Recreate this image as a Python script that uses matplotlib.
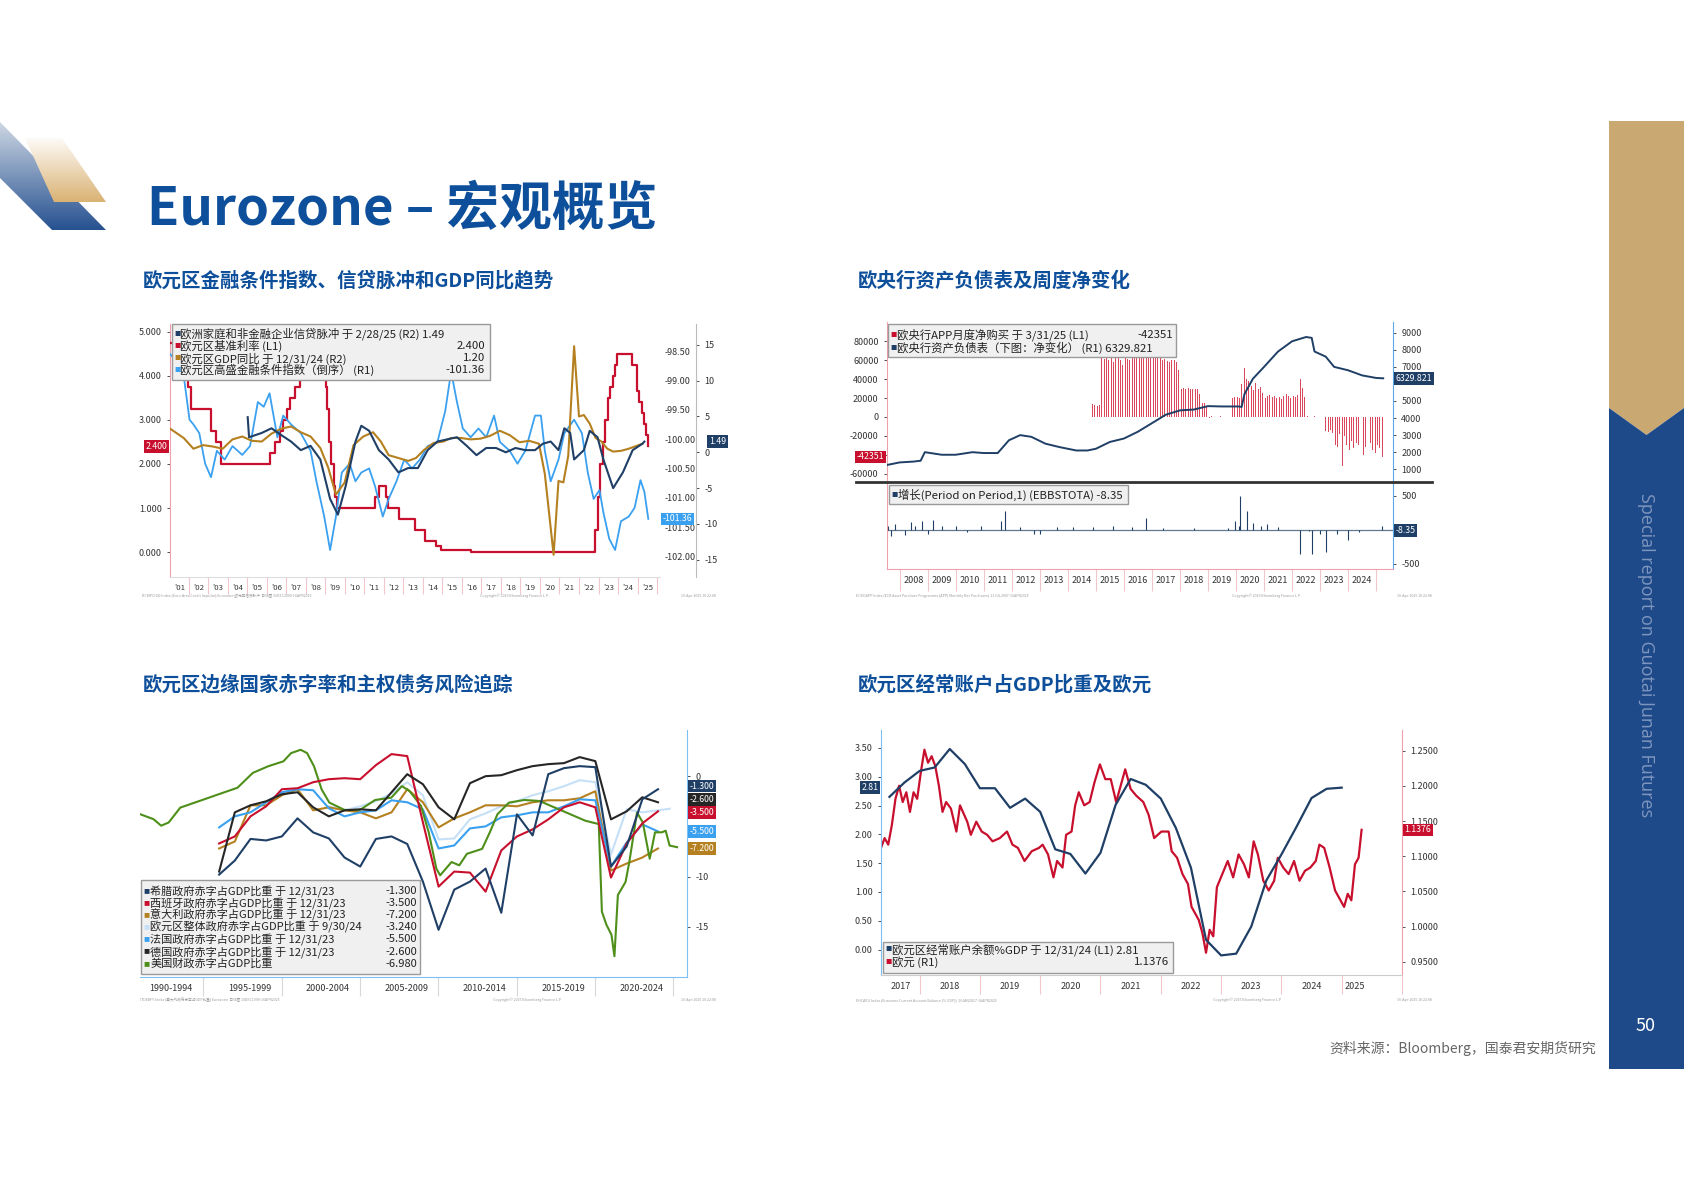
import numpy as np
import matplotlib
matplotlib.use("Agg")
import matplotlib.pyplot as plt
from matplotlib.patches import Rectangle, Polygon
from matplotlib.colors import LinearSegmentedColormap

plt.rcParams['font.family'] = ['Noto Sans CJK SC', 'DejaVu Sans']
plt.rcParams['axes.unicode_minus'] = False

W, H = 1684, 1191
NAVY = '#1F3F66'; RED = '#C8102E'; ORANGE = '#B5801F'; LBLUE = '#3AA0F0'
BLACK = '#262626'; GREEN = '#4E8F1A'; PALE = '#C6E0F7'; TITLE = '#0D4F9A'

# ---------------- Chart 1 data ----------------
rate_x = [2000.8, 2001.36, 2001.66, 2001.72, 2001.86, 2002.92, 2003.18, 2003.43, 2005.92, 2006.17, 2006.45, 2006.6,
          2006.78, 2006.95, 2007.2, 2007.45, 2008.52, 2008.78, 2008.85, 2008.94, 2009.05, 2009.19, 2009.27, 2009.37,
          2011.28, 2011.53, 2011.84, 2011.95, 2012.52, 2013.34, 2013.85, 2014.44, 2014.7, 2016.2, 2022.56, 2022.7,
          2022.84, 2022.97, 2023.1, 2023.22, 2023.35, 2023.47, 2023.6, 2023.72, 2024.45, 2024.71, 2024.8, 2024.96,
          2025.08, 2025.2, 2025.3]
rate_v = [4.75, 4.5, 4.25, 3.75, 3.25, 2.75, 2.5, 2.0, 2.25, 2.5, 2.75, 3.0, 3.25, 3.5, 3.75, 4.0, 4.25, 3.75, 3.25,
          2.5, 2.0, 1.5, 1.25, 1.0, 1.25, 1.5, 1.25, 1.0, 0.75, 0.5, 0.25, 0.15, 0.05, 0.0, 0.5, 1.25, 2.0, 2.5, 3.0,
          3.5, 3.75, 4.0, 4.25, 4.5, 4.25, 3.65, 3.4, 3.15, 2.9, 2.65, 2.4]
gdp_x = [2000.8, 2001.5, 2002.0, 2002.5, 2003.0, 2003.5, 2004.0, 2004.5, 2005.0, 2005.5, 2006.0, 2006.5, 2007.0,
         2007.5, 2008.0, 2008.5, 2008.9, 2009.3, 2009.75, 2010.2, 2010.7, 2011.2, 2011.6, 2012.0, 2012.5, 2013.0,
         2013.4, 2013.8, 2014.3, 2014.8, 2015.2, 2015.7, 2016.2, 2016.7, 2017.2, 2017.7, 2018.2, 2018.7, 2019.2,
         2019.7, 2020.0, 2020.45, 2020.7, 2020.95, 2021.2, 2021.5, 2021.75, 2022.0, 2022.3, 2022.6, 2022.9, 2023.2,
         2023.5, 2023.9, 2024.3, 2024.7, 2025.0]
gdp_v = [3.3, 2.0, 0.5, 1.0, 0.8, 0.5, 1.8, 2.2, 1.6, 1.5, 2.6, 3.3, 3.6, 2.8, 2.2, 0.6, -2.1, -5.9, -4.2, 1.0, 2.2,
         2.8, 1.5, -0.4, -0.8, -1.2, -0.8, 0.3, 1.3, 1.5, 2.0, 2.0, 1.8, 1.9, 2.3, 3.0, 2.4, 1.4, 1.6, 1.2, -3.0,
         -14.3, -4.0, -4.2, -0.5, 14.8, 5.0, 5.2, 4.0, 2.0, 1.5, 0.5, 0.1, 0.2, 0.5, 0.9, 1.2]
imp_x = [2004.78, 2004.85, 2005.5, 2006.0, 2006.5, 2007.0, 2007.5, 2008.0, 2008.5, 2009.0, 2009.4, 2009.8, 2010.3,
         2010.6, 2011.0, 2011.5, 2012.0, 2012.5, 2013.0, 2013.5, 2014.0, 2014.5, 2015.0, 2015.5, 2016.0, 2016.5,
         2017.0, 2017.5, 2018.0, 2018.5, 2019.0, 2019.5, 2019.9, 2020.3, 2020.7, 2021.0, 2021.3, 2021.5, 2022.0,
         2022.3, 2022.7, 2023.0, 2023.5, 2024.0, 2024.5, 2025.0, 2025.1]
imp_v = [4.9, 2.1, 2.7, 3.35, 2.4, 1.5, 0.3, 0.9, -1.0, -6.5, -8.7, -4.7, 1.5, 3.7, 3.0, 0.3, -1.0, -2.8, -2.2, -2.2,
         0.3, 1.5, 1.8, 2.1, 0.9, -0.4, 0.6, 0.6, 0.0, 0.6, 0.3, 0.3, 1.2, 1.5, 0.3, 3.35, 2.7, -1.0, 0.3, 3.0, 2.1,
         -1.0, -5.0, -2.8, 0.3, 1.2, 1.49]
fci_x = [2000.8, 2001.2, 2001.5, 2001.8, 2002.0, 2002.3, 2002.6, 2002.9, 2003.2, 2003.6, 2004.0, 2004.5, 2004.9,
         2005.3, 2005.6, 2005.9, 2006.3, 2006.6, 2007.0, 2007.5, 2008.0, 2008.3, 2008.7, 2009.0, 2009.3, 2009.6,
         2010.0, 2010.3, 2010.6, 2011.0, 2011.3, 2011.7, 2012.0, 2012.4, 2012.8, 2013.2, 2013.6, 2014.0, 2014.5,
         2014.9, 2015.2, 2015.5, 2015.8, 2016.2, 2016.6, 2017.0, 2017.4, 2017.7, 2018.2, 2018.6, 2019.0, 2019.5,
         2019.8, 2020.0, 2020.3, 2020.7, 2021.0, 2021.5, 2021.9, 2022.2, 2022.5, 2022.8, 2023.0, 2023.3, 2023.6,
         2023.9, 2024.3, 2024.6, 2024.9, 2025.1, 2025.3]
fci_v = [-98.55, -98.70, -98.92, -99.67, -99.75, -99.90, -100.42, -100.65, -100.20, -100.35, -100.12, -100.27,
         -100.12, -99.37, -99.45, -99.22, -99.97, -99.60, -99.75, -99.90, -100.20, -100.72, -101.32, -101.89,
         -101.32, -100.57, -100.42, -100.72, -100.57, -100.50, -100.80, -101.32, -101.02, -100.72, -100.35, -100.50,
         -100.35, -100.12, -100.05, -99.52, -98.85, -99.37, -99.82, -99.97, -99.82, -99.97, -99.60, -100.05, -100.20,
         -100.42, -100.20, -99.60, -99.60, -100.20, -100.72, -100.35, -99.90, -99.67, -99.90, -100.57, -101.02,
         -100.87, -101.25, -101.70, -101.89, -101.40, -101.32, -101.17, -100.70, -100.90, -101.36]
c1_years = list(range(2001, 2026))

# ---------------- Chart 2 data ----------------
app_start = 2014.75
app_vals = [5000, 14000, 13000,
            12000, 13000, 62000, 61000, 63000, 60000, 62000, 58000, 62000, 63000, 60000, 55000,
            62000, 61000, 60000, 85000, 80000, 84000, 81000, 80000, 82000, 80000, 83000, 75000,
            82000, 80000, 84000, 62000, 60000, 61000, 59000, 58000, 60000, 60000, 58000, 50000,
            30000, 31000, 30000, 31000, 29000, 30000, 30000, 29000, 24000, 15000, 15000, 12000,
            -1000, 500, -500, 200, -300, 500, -200, 300, -400, 200, 20000, 21000,
            21000, 20000, 35000, 52000, 40000, 38000, 33000, 28000, 36000, 30000, 32000, 25000,
            20000, 22000, 23000, 21000, 22000, 20000, 21000, 19000, 22000, 24000, 22000, 20000,
            22000, 21000, 23000, 40000, 31000, 21000, 500, 300, -200, 500, 300, -400,
            -100, 200, -15000, -16000, -14000, -17000, -30000, -32000, -18000, -52000, -20000, -30000,
            -35000, -25000, -33000, -28000, -30000, -33000, -40000, -32000, -26000, -28000, -35000, -38000,
            -30000, -33000, -42351]
bs_x = [2007.55, 2008.0, 2008.5, 2008.75, 2008.9, 2009.5, 2010.0, 2010.6, 2011.0, 2011.5, 2011.9, 2012.3, 2012.7,
        2013.2, 2013.7, 2014.3, 2014.7, 2015.0, 2015.5, 2016.0, 2016.5, 2017.0, 2017.5, 2018.0, 2018.5, 2019.0,
        2019.5, 2020.1, 2020.2, 2020.3, 2020.6, 2021.0, 2021.5, 2022.0, 2022.5, 2022.7, 2022.8, 2023.2, 2023.5,
        2024.0, 2024.5, 2025.0, 2025.25]
bs_v = [1250, 1400, 1450, 1500, 2000, 1850, 1850, 2000, 1950, 1950, 2700, 3000, 2900, 2500, 2300, 2100, 2100, 2200,
        2600, 2800, 3200, 3700, 4200, 4450, 4500, 4700, 4680, 4680, 4650, 5400, 6300, 7000, 7900, 8500, 8750, 8700,
        7900, 7600, 7000, 6800, 6500, 6350, 6330]
chg_x = [2007.6, 2007.7, 2007.85, 2008.2, 2008.4, 2008.55, 2008.8, 2009.0, 2009.2, 2009.5, 2010.0, 2010.4, 2010.9,
         2011.6, 2011.75, 2012.3, 2012.8, 2013.0, 2013.6, 2014.2, 2014.9, 2015.6, 2016.3, 2016.8, 2017.4, 2018.5,
         2019.7, 2019.95, 2020.1, 2020.15, 2020.4, 2020.6, 2020.9, 2021.1, 2021.5, 2022.3, 2022.6, 2022.7, 2023.0,
         2023.2, 2023.6, 2024.0, 2024.4, 2025.2]
chg_v = [60, -90, 90, -80, 120, 60, 130, -60, 150, 60, 50, -40, 50, 130, 280, 40, -60, -60, 40, 40, 40, 50, 40, 180,
         20, 20, 20, 130, 60, 500, 280, 100, 60, 80, 40, -360, -20, -360, -60, -330, -60, -150, -40, 60]
c2_years = list(range(2008, 2025))

# ---------------- Chart 3 data ----------------
yr = list(range(1995, 2024))
greece = [-9.8, -8.4, -6.25, -6.4, -6.0, -4.2, -5.6, -6.2, -8.1, -9.0, -6.25, -6.0, -6.75, -10.5, -15.3, -11.3, -10.5,
          -9.2, -13.6, -3.8, -5.9, 0.2, 0.8, 1.0, 0.9, -9.0, -7.0, -2.3, -1.3]
spain = [-6.7, -6.0, -4.0, -3.0, -1.3, -1.2, -0.6, -0.3, -0.2, -0.3, 1.1, 2.2, 2.0, -4.6, -11.0, -9.5, -9.6, -11.5,
         -7.4, -6.0, -5.3, -4.3, -3.1, -2.6, -3.1, -10.1, -6.7, -4.7, -3.5]
italy = [-7.2, -6.5, -2.9, -2.9, -1.9, -1.3, -3.4, -3.1, -3.4, -3.6, -4.2, -3.6, -1.3, -2.6, -5.1, -4.2, -3.6, -2.9,
         -2.9, -3.0, -2.6, -2.4, -2.4, -2.2, -1.5, -9.4, -8.7, -8.1, -7.2]
france = [-5.1, -4.0, -3.6, -2.6, -1.6, -1.3, -1.4, -3.2, -4.0, -3.6, -3.4, -2.4, -2.6, -3.3, -7.2, -6.9, -5.2, -5.0,
          -4.1, -3.9, -3.6, -3.6, -3.0, -2.3, -2.4, -9.0, -6.6, -4.8, -5.5]
germany = [-9.5, -3.6, -2.9, -2.5, -1.8, -1.6, -3.1, -4.0, -3.4, -3.3, -3.4, -1.6, 0.2, -0.8, -3.1, -4.3, -0.7, 0.0,
           0.1, 0.6, 1.0, 1.2, 1.3, 1.9, 1.5, -4.3, -3.5, -2.1, -2.6]
ez_yr = [2002, 2003, 2004, 2005, 2006, 2007, 2008, 2009, 2010, 2011, 2012, 2013, 2014, 2015, 2016, 2017, 2018, 2019,
         2020, 2021, 2022, 2023, 2023.75]
ez = [-3.0, -3.4, -3.0, -2.5, -1.7, -0.6, -1.9, -6.3, -6.2, -4.3, -3.7, -3.0, -2.5, -1.9, -1.5, -1.0, -0.4, -0.6,
      -7.8, -3.3, -3.6, -3.4, -3.24]
us_x = [1990.8, 1991.66, 1992.15, 1992.63, 1993.37, 1994.59, 1995.8, 1997.02, 1998.0, 1998.98, 1999.95, 2000.44,
        2001.05, 2001.46, 2001.9, 2002.39, 2002.88, 2003.85, 2004.83, 2005.8, 2006.83, 2007.51, 2008.0, 2008.73,
        2009.22, 2009.71, 2009.95, 2010.68, 2011.17, 2011.66, 2012.63, 2013.12, 2013.61, 2014.34, 2015.32, 2016.29,
        2017.27, 2018.24, 2019.22, 2020.07, 2020.27, 2020.56, 2020.88, 2021.07, 2021.29, 2021.78, 2022.02, 2022.51,
        2022.88, 2023.32, 2023.66, 2024.1, 2024.34, 2024.59, 2025.07]
us_v = [-3.78, -4.28, -4.93, -4.61, -3.13, -2.47, -1.81, -1.15, 0.33, 0.99, 1.48, 2.30, 2.63, 2.30, 0.99, -1.32,
        -2.63, -3.36, -3.36, -2.37, -2.14, -0.99, -1.48, -2.96, -5.59, -9.21, -9.87, -8.55, -8.88, -7.73, -7.24,
        -5.59, -3.78, -2.63, -2.37, -2.47, -3.13, -3.78, -4.44, -4.77, -13.49, -14.80, -15.79, -17.93, -11.84,
        -10.53, -8.55, -3.62, -4.61, -8.22, -5.59, -5.59, -5.43, -6.91, -7.07]
c3_periods = ['1990-1994', '1995-1999', '2000-2004', '2005-2009', '2010-2014', '2015-2019', '2020-2024']

# ---------------- Chart 4 data ----------------
ca_x = [2017.5 + 0.25 * i for i in range(31)]
ca_v = [2.65, 2.9, 3.1, 3.16, 3.48, 3.22, 2.8, 2.8, 2.46, 2.62, 2.39, 1.74, 1.66, 1.32, 1.68, 2.51, 2.96, 2.86, 2.62,
        2.11, 1.42, 0.17, -0.1, -0.07, 0.4, 1.2, 1.65, 2.13, 2.63, 2.79, 2.81]
eur_x = [2017.36, 2017.42, 2017.48, 2017.54, 2017.60, 2017.66, 2017.72, 2017.78, 2017.84, 2017.90, 2017.96, 2018.02,
         2018.08, 2018.14, 2018.20, 2018.26, 2018.32, 2018.38, 2018.44, 2018.52, 2018.61, 2018.67, 2018.79, 2018.85,
         2018.94, 2019.03, 2019.12, 2019.21, 2019.33, 2019.45, 2019.54, 2019.63, 2019.74, 2019.86, 2019.98, 2020.04,
         2020.13, 2020.22, 2020.28, 2020.37, 2020.43, 2020.52, 2020.58, 2020.64, 2020.73, 2020.82, 2020.90, 2020.99,
         2021.08, 2021.17, 2021.26, 2021.35, 2021.41, 2021.50, 2021.59, 2021.71, 2021.80, 2021.89, 2022.01, 2022.13,
         2022.18, 2022.27, 2022.36, 2022.45, 2022.51, 2022.57, 2022.63, 2022.69, 2022.75, 2022.81, 2022.87, 2022.93,
         2023.02, 2023.11, 2023.20, 2023.29, 2023.38, 2023.46, 2023.54, 2023.61, 2023.70, 2023.79, 2023.88, 2023.94,
         2024.03, 2024.12, 2024.21, 2024.30, 2024.39, 2024.48, 2024.57, 2024.63, 2024.71, 2024.80, 2024.89, 2024.98,
         2025.04, 2025.10, 2025.16, 2025.22, 2025.28, 2025.33]
eur_v = [1.1119, 1.1258, 1.1165, 1.1444, 1.1816, 1.2002, 1.1770, 1.1909, 1.1630, 1.1909, 1.1816, 1.2188, 1.2514,
         1.2328, 1.2421, 1.2281, 1.2002, 1.1630, 1.1770, 1.1677, 1.1351, 1.1723, 1.1491, 1.1305, 1.1491, 1.1351,
         1.1305, 1.1212, 1.1258, 1.1351, 1.1165, 1.1119, 1.0933, 1.1072, 1.1119, 1.1165, 1.1026, 1.0700, 1.0933,
         1.0840, 1.1305, 1.1351, 1.1723, 1.1909, 1.1723, 1.1770, 1.2049, 1.2305, 1.2095, 1.2095, 1.1770, 1.2049,
         1.2235, 1.1956, 1.1863, 1.1770, 1.1584, 1.1258, 1.1351, 1.1351, 1.1072, 1.0979, 1.0747, 1.0607, 1.0281,
         1.0188, 1.0095, 0.9909, 0.9630, 0.9956, 0.9863, 1.0560, 1.0747, 1.0933, 1.0700, 1.1026, 1.0886, 1.0700,
         1.1212, 1.1026, 1.0653, 1.0514, 1.0653, 1.0979, 1.0840, 1.0747, 1.0933, 1.0653, 1.0793, 1.0840, 1.0933,
         1.1165, 1.1119, 1.0840, 1.0514, 1.0374, 1.0281, 1.0467, 1.0374, 1.0886, 1.0979, 1.1376]
c4_years = list(range(2017, 2026))

# ======================================================
fig = plt.figure(figsize=(W / 100, H / 100), dpi=100)
fig.patch.set_facecolor('white')


def fx(p):
    return p / W


def fy(p):
    return 1 - p / H


def axrect(x0, y0, x1, y1):
    return [fx(x0), fy(y1), fx(x1) - fx(x0), (y1 - y0) / H]


def poly(pts, color, z=1, alpha=1.0):
    fig.patches.append(Polygon([(fx(a), fy(b)) for a, b in pts], closed=True, transform=fig.transFigure,
                               fc=color, ec='none', zorder=z, alpha=alpha))


def grad_poly(pts, c_top, c_bot, y0, y1):
    dax = fig.add_axes(axrect(0, y0, 120, y1))
    dax.set_axis_off()
    dax.set_xlim(0, 120); dax.set_ylim(y1, y0)
    cmap = LinearSegmentedColormap.from_list('g', [c_top, c_bot])
    im = dax.imshow(np.linspace(0, 1, 64).reshape(-1, 1), cmap=cmap, extent=(0, 120, y1, y0), aspect='auto')
    p = Polygon(pts, closed=True, transform=dax.transData, fc='none', ec='none')
    dax.add_patch(p)
    im.set_clip_path(p)


# decoration top-left
grad_poly([(0, 122), (0, 178), (52, 230), (106, 230)], '#D3DBE6', '#24508F', 118, 232)
grad_poly([(25, 138), (62, 138), (106, 202), (54, 202)], '#FFFFFF', '#D9B070', 134, 204)
# right band
poly([(1609, 121), (1684, 121), (1684, 408), (1646.5, 435), (1609, 408)], '#C9A872')
poly([(1609, 408), (1646.5, 435), (1684, 408), (1684, 1069), (1609, 1069)], '#1F4A8A')
fig.text(fx(1646), fy(655), 'Special report on Guotai Junan Futures', rotation=270, color='#7E96BE',
         fontsize=13, ha='center', va='center', family=['Open Sans', 'DejaVu Sans'])
fig.text(fx(1646), fy(1026), '50', color='white', fontsize=13, ha='center', va='center')

fig.text(fx(147), fy(209), 'Eurozone – 宏观概览', fontsize=38, weight='bold', color=TITLE, va='center')
fig.text(fx(143), fy(281), '欧元区金融条件指数、信贷脉冲和GDP同比趋势', fontsize=14, weight='bold', color=TITLE, va='center')
fig.text(fx(858), fy(281), '欧央行资产负债表及周度净变化', fontsize=14, weight='bold', color=TITLE, va='center')
fig.text(fx(143), fy(685), '欧元区边缘国家赤字率和主权债务风险追踪', fontsize=14, weight='bold', color=TITLE, va='center')
fig.text(fx(858), fy(685), '欧元区经常账户占GDP比重及欧元', fontsize=14, weight='bold', color=TITLE, va='center')
fig.text(fx(1596), fy(1048), '资料来源：Bloomberg，国泰君安期货研究', fontsize=10, color='#666666', ha='right', va='center')

TF = 6.5


def style(ax):
    for s in ax.spines.values():
        s.set_visible(False)
    ax.tick_params(labelsize=TF, colors='#333333', length=2.5, width=0.6)
    ax.set_facecolor('none')


def legend_box(ax, x0, x1, y0, y1, rows, ys, xval, fs=8.2):
    ax.add_patch(Rectangle((x0, y0), x1 - x0, y1 - y0, transform=ax.transAxes, fc='#F0F0F0', ec='#9A9A9A',
                           lw=1.0, zorder=20, clip_on=False))
    for (c, lab, val), y in zip(rows, ys):
        ax.text(x0 + 0.004, y, '■', color=c, fontsize=fs * 0.55, transform=ax.transAxes, va='center', zorder=21)
        ax.text(x0 + 0.017, y, lab, color='#222222', fontsize=fs, transform=ax.transAxes, va='center', zorder=21)
        if val:
            ax.text(xval, y, val, color='#222222', fontsize=fs, transform=ax.transAxes, va='center', ha='right',
                    zorder=21)


def tag(ax, x, y, txt, color, ha='left', fc_text='white'):
    ax.annotate(txt, xy=(x, y), xycoords=('axes fraction', 'data'), fontsize=6.3, color=fc_text, ha=ha,
                va='center', bbox=dict(boxstyle='square,pad=0.2', fc=color, ec='none'), zorder=30,
                annotation_clip=False)


def year_axis(ax, years, lo, hi, sep_off=0.0, length=12, fs=TF):
    ax.set_xlim(lo, hi)
    pos = [(max(y + sep_off, lo) + min(y + 1 + sep_off, hi)) / 2 for y in years]
    ax.set_xticks(pos)
    ax.set_xticks([y + sep_off for y in years if lo < y + sep_off < hi] + [years[-1] + 1 + sep_off], minor=True)
    ax.tick_params(axis='x', which='major', length=0, pad=5, labelsize=fs)
    ax.tick_params(axis='x', which='minor', length=length, color='#F2C6CC', width=0.8)


def footer(x_left, x_copy, x_date, y, left_text):
    fig.text(fx(x_left), fy(y), left_text, fontsize=2.6, color='#999999', va='center')
    fig.text(fx(x_copy), fy(y), 'Copyright© 2025 Bloomberg Finance L.P.', fontsize=2.6, color='#999999', va='center')
    fig.text(fx(x_date), fy(y), '16-Apr-2025 10:22:08', fontsize=2.6, color='#999999', va='center', ha='right')


# ---------------- Chart 1 ----------------
a1 = fig.add_axes(axrect(170, 324, 660, 577))
style(a1)
a1.spines['left'].set_visible(True); a1.spines['left'].set_color('#F0A0AA')
a1.spines['bottom'].set_visible(True); a1.spines['bottom'].set_color('#DDDDDD')
a1.set_ylim(-0.56, 5.17)
a1.set_yticks([0, 1, 2, 3, 4, 5]); a1.set_yticklabels(['%.3f' % v for v in [0, 1, 2, 3, 4, 5]])
a1.step(rate_x, rate_v, where='post', color=RED, lw=1.6, zorder=3)
year_axis(a1, c1_years, 2000.8, 2025.9, sep_off=-0.25, fs=5.6)
a1.set_xticklabels(["'%02d" % (y % 100) for y in c1_years])
r1 = a1.twinx(); style(r1)
r1.set_ylim(-102.35, -98.04)
r1_ticks = [-102, -101.5, -101, -100.5, -100, -99.5, -99, -98.5]
r1.set_yticks(r1_ticks)
r1.set_yticklabels(['%.2f' % v for v in r1_ticks])
r1.tick_params(axis='y', length=0, pad=3)
r1.plot(fci_x, fci_v, color=LBLUE, lw=1.3, zorder=2)
r2 = a1.twinx(); style(r2)
r2.spines['right'].set_visible(True); r2.spines['right'].set_position(('outward', 26)); r2.spines['right'].set_color('#BBBBBB')
r2.set_ylim(-17.4, 17.9)
r2.set_yticks([-15, -10, -5, 0, 5, 10, 15])
r2.plot(gdp_x, gdp_v, color=ORANGE, lw=1.5, zorder=3)
r2.plot(imp_x, imp_v, color=NAVY, lw=1.5, zorder=4)
a1.set_zorder(1); r1.set_zorder(2); r2.set_zorder(3)
a1.patch.set_visible(False)
legend_box(r2, 0.004, 0.654, 0.78, 1.0,
           [(NAVY, '欧洲家庭和非金融企业信贷脉冲 于 2/28/25 (R2) 1.49', ''),
            (RED, '欧元区基准利率 (L1)', '2.400'),
            (ORANGE, '欧元区GDP同比 于 12/31/24 (R2)', '1.20'),
            (LBLUE, '欧元区高盛金融条件指数（倒序） (R1)', '-101.36')],
           [0.962, 0.915, 0.864, 0.817], 0.643)
tag(a1, -0.005, 2.4, '2.400', RED, ha='right')
tag(r2, 1.1, 1.49, '1.49', NAVY)
tag(r1, 1.005, -101.36, '-101.36', LBLUE)
footer(142, 480, 716, 596, 'BCMPCIGD Index (Euro-Area Credit Impulse) Eurozone-欧元区信贷脉冲  日线图 31DEC2000-16APR2025')

# ---------------- Chart 2 ----------------
a2 = fig.add_axes(axrect(887, 322, 1393, 480))
style(a2)
a2.spines['left'].set_visible(True); a2.spines['left'].set_color('#F0A0AA')
a2.set_ylim(-66800, 100450)
l2_ticks = list(range(-60000, 80001, 20000))
a2.set_yticks(l2_ticks)
a2.set_yticklabels(['' if v == -40000 else str(v) for v in l2_ticks])
app_x = [app_start + (i + 0.5) / 12 for i in range(len(app_vals))]
a2.bar(app_x, app_vals, width=0.035, color='#D9485C', zorder=2)
a2.set_xlim(2007.55, 2025.6); a2.set_xticks([])
b2 = a2.twinx(); style(b2)
b2.spines['right'].set_visible(True); b2.spines['right'].set_color('#5AA8E8')
b2.set_ylim(370, 9630)
b2_ticks = list(range(1000, 9001, 1000))
b2.set_yticks(b2_ticks)
b2.set_yticklabels(['' if v == 6000 else str(v) for v in b2_ticks])
b2.plot(bs_x, bs_v, color=NAVY, lw=1.4, zorder=3)
legend_box(b2, 0.002, 0.571, 0.776, 0.986,
           [(RED, '欧央行APP月度净购买 于 3/31/25 (L1)', '-42351'),
            (NAVY, '欧央行资产负债表（下图：净变化） (R1) 6329.821', '')],
           [0.918, 0.837], 0.565)
tag(a2, -0.005, -42351, '-42351', RED, ha='right')
tag(b2, 1.005, 6329.821, '6329.821', NAVY)
fig.lines.append(plt.Line2D([fx(856), fx(1432)], [fy(481.5), fy(481.5)], transform=fig.transFigure,
                            color='#333333', lw=2))
c2 = fig.add_axes(axrect(887, 483, 1393, 569))
style(c2)
c2.spines['left'].set_visible(True); c2.spines['left'].set_color('#F0A0AA')
c2.spines['right'].set_visible(True); c2.spines['right'].set_color('#5AA8E8')
c2.spines['bottom'].set_visible(True); c2.spines['bottom'].set_color('#F0A0AA')
c2.yaxis.tick_right()
c2.set_ylim(-580, 690)
c2.set_yticks([-500, 500])
c2.axhline(0, color=NAVY, lw=0.9, alpha=0.7)
c2.vlines(chg_x, 0, chg_v, color=NAVY, lw=0.8)
year_axis(c2, c2_years, 2007.55, 2025.6, sep_off=0.0, length=16)
c2.set_xticklabels([str(y) for y in c2_years])
legend_box(c2, 0.004, 0.476, 0.75, 0.975, [(NAVY, '增长(Period on Period,1) (EBBSTOTA) -8.35', '')], [0.86], 0.47)
tag(c2, 1.005, -8.35, '-8.35', NAVY)
footer(856, 1232, 1432, 596, 'ECBOAPP Index (ECB Asset Purchase Programme (APP) Monthly Net Purchases)  21JUL2007-16APR2025')

# ---------------- Chart 3 ----------------
a3 = fig.add_axes(axrect(140, 730, 687, 977))
style(a3)
a3.spines['right'].set_visible(True); a3.spines['right'].set_color('#7CC0F2')
a3.spines['bottom'].set_visible(True); a3.spines['bottom'].set_color('#7CC0F2')
a3.yaxis.tick_right()
a3.set_ylim(-20, 4.6)
a3.set_yticks([0, -5, -10, -15])
a3.set_yticklabels(['0', '', '-10', '-15'])
a3.set_xlim(1990.8, 2025.7)
off = 0.85
a3.plot([y + off for y in yr], greece, color=NAVY, lw=1.5, zorder=5)
a3.plot([y + off for y in yr], spain, color=RED, lw=1.5, zorder=4)
a3.plot([y + off for y in yr], italy, color=ORANGE, lw=1.5, zorder=3)
a3.plot([y + off for y in ez_yr], ez, color=PALE, lw=1.5, zorder=2)
a3.plot([y + off for y in yr], france, color=LBLUE, lw=1.5, zorder=3)
a3.plot([y + off for y in yr], germany, color=BLACK, lw=1.5, zorder=4)
a3.plot(us_x, us_v, color=GREEN, lw=1.5, zorder=3)
seps = [1994.83 + 5 * k for k in range(7)]
a3.set_xticks([1992.8 + 5 * k for k in range(7)])
a3.set_xticklabels(c3_periods)
a3.set_xticks(seps, minor=True)
a3.tick_params(axis='x', which='major', length=0, pad=5)
a3.tick_params(axis='x', which='minor', length=14, color='#D8D8D8', width=0.8)
legend_box(a3, 0.002, 0.512, 0.013, 0.391,
           [(NAVY, '希腊政府赤字占GDP比重 于 12/31/23', '-1.300'),
            (RED, '西班牙政府赤字占GDP比重 于 12/31/23', '-3.500'),
            (ORANGE, '意大利政府赤字占GDP比重 于 12/31/23', '-7.200'),
            (PALE, '欧元区整体政府赤字占GDP比重 于 9/30/24', '-3.240'),
            (LBLUE, '法国政府赤字占GDP比重 于 12/31/23', '-5.500'),
            (BLACK, '德国政府赤字占GDP比重 于 12/31/23', '-2.600'),
            (GREEN, '美国财政赤字占GDP比重', '-6.980')],
           [0.348, 0.299, 0.250, 0.201, 0.152, 0.103, 0.054], 0.506, fs=8.0)
tag(a3, 1.005, -1.0, '-1.300', NAVY)
tag(a3, 1.005, -2.3, '-2.600', BLACK)
tag(a3, 1.005, -3.6, '-3.500', RED)
tag(a3, 1.005, -5.5, '-5.500', LBLUE)
tag(a3, 1.005, -7.2, '-7.200', ORANGE)
footer(140, 493, 716, 1000, 'ITDEBFY Index (意大利政府赤字占GDP比重) Eurozone  日线图 10DEC1990-16APR2025')

# ---------------- Chart 4 ----------------
a4 = fig.add_axes(axrect(881, 730, 1402, 975))
style(a4)
a4.spines['left'].set_visible(True); a4.spines['left'].set_color('#7CC0F2')
a4.spines['bottom'].set_visible(True); a4.spines['bottom'].set_color('#CCCCCC')
a4.set_ylim(-0.44, 3.81)
l4_ticks = [0, 0.5, 1, 1.5, 2, 2.5, 3, 3.5]
a4.set_yticks(l4_ticks)
a4.set_yticklabels(['%.2f' % v for v in l4_ticks])
year_axis(a4, c4_years, 2017.36, 2025.45, sep_off=0.0, length=14)
a4.set_xticklabels([str(y) for y in c4_years])
b4 = a4.twinx(); style(b4)
b4.spines['right'].set_visible(True); b4.spines['right'].set_color('#F0A0AA')
b4.set_ylim(0.9314, 1.2793)
r4_ticks = [0.95, 1.0, 1.05, 1.1, 1.15, 1.2, 1.25]
b4.set_yticks(r4_ticks)
b4.set_yticklabels(['%.4f' % v for v in r4_ticks])
b4.plot(eur_x, eur_v, color=RED, lw=1.6, zorder=2)
a4.set_zorder(3); a4.patch.set_visible(False)
a4.plot(ca_x, ca_v, color=NAVY, lw=1.6, zorder=3)
legend_box(a4, 0.004, 0.561, 0.009, 0.136,
           [(NAVY, '欧元区经常账户余额%GDP 于 12/31/24 (L1) 2.81', ''),
            (RED, '欧元 (R1)', '1.1376')],
           [0.105, 0.053], 0.553)
tag(a4, -0.005, 2.81, '2.81', NAVY, ha='right')
tag(b4, 1.005, 1.1376, '1.1376', RED)
footer(856, 1213, 1432, 1000, 'EHCAEU Index (Eurozone Current Account Balance (% GDP))  16JAN2017-16APR2025')

fig.savefig('out.png', dpi=100, facecolor='white')
